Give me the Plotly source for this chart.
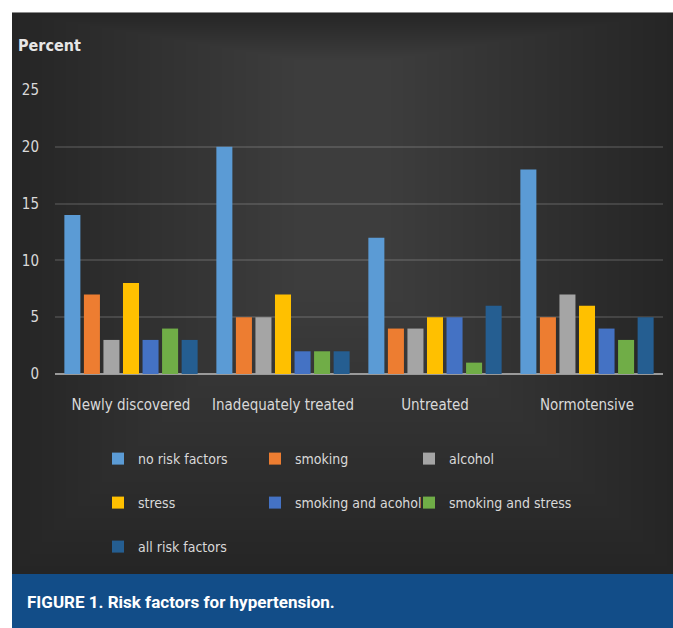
import plotly.graph_objects as go

categories = ["Newly discovered", "Inadequately treated", "Untreated", "Normotensive"]
series_names = ["no risk factors", "smoking", "alcohol", "stress",
                "smoking and acohol", "smoking and stress", "all risk factors"]
no_risk = [14, 20, 12, 18]
smoking = [7, 5, 4, 5]
alcohol = [3, 5, 4, 7]
stress = [8, 7, 5, 6]
smoking_alcohol = [3, 2, 5, 4]
smoking_stress = [4, 2, 1, 3]
all_risk = [3, 2, 6, 5]
values = [no_risk, smoking, alcohol, stress, smoking_alcohol, smoking_stress, all_risk]
colors = ["#5b9bd5", "#ed7d31", "#a5a5a5", "#ffc000", "#4472c4", "#70ad47", "#255e91"]
y_ticks = [0, 5, 10, 15, 20, 25]

W, H = 673, 628
ML, MR, MT, MB = 55, 10, 90, 254
PW = W - ML - MR
PH = H - MT - MB

def px2x(p):
    return (p - ML) / PW

def py2y(p):
    return (H - MB - p) / PH

# legend grid: 3 columns x 3 rows (marker centre pixels)
leg_cols = [126, 283, 437]
leg_rows = [459, 503, 547]

fig = go.Figure()
legend_defs = {}
font_main = "Liberation Sans Narrow, DejaVu Sans Condensed, Open Sans, sans-serif"
for i, (name, vals, col) in enumerate(zip(series_names, values, colors)):
    lid = "legend" if i == 0 else f"legend{i + 1}"
    fig.add_trace(go.Bar(x=categories, y=vals, name=name, marker_color=col,
                         marker_line_width=0, legend=lid))
    cx = leg_cols[i % 3]
    cy = leg_rows[i // 3]
    legend_defs[lid] = dict(x=px2x(cx - 28), y=py2y(cy), xanchor="left", yanchor="middle",
                            orientation="h", bgcolor="rgba(0,0,0,0)",
                            font=dict(family=font_main, size=14, color="#d9d9d9"),
                            itemclick=False, itemdoubleclick=False)

# dark panel with soft vignette and caption bar
shapes = [
    dict(type="rect", xref="paper", yref="paper", layer="below",
         x0=px2x(12), x1=px2x(680), y0=py2y(574), y1=py2y(12),
         fillcolor="#252525", line_width=0),
]
n = 24
for k in range(n):
    ix = 6 + k * 12
    iyt = k * 2
    iyb = 8 + k * 12
    shapes.append(dict(type="rect", xref="paper", yref="paper", layer="below",
                       x0=px2x(12 + ix), x1=px2x(673 - ix),
                       y0=py2y(574 - iyb), y1=py2y(14 + iyt),
                       fillcolor="white", opacity=0.0085, line_width=0))
shapes += [
    dict(type="line", xref="paper", yref="paper", layer="below",
         x0=px2x(12), x1=px2x(680), y0=py2y(12.5), y1=py2y(12.5),
         line=dict(color="#8c8c8c", width=1)),
    dict(type="rect", xref="paper", yref="paper", layer="below",
         x0=px2x(12), x1=px2x(680), y0=py2y(640), y1=py2y(574),
         fillcolor="#124d88", line_width=0),
]

fig.update_layout(
    width=W, height=H,
    margin=dict(l=ML, r=MR, t=MT, b=MB),
    paper_bgcolor="white",
    plot_bgcolor="rgba(0,0,0,0)",
    barmode="group",
    bargap=0.1,
    bargroupgap=0.18,
    shapes=shapes,
    showlegend=True,
    xaxis=dict(showgrid=False, showline=False, ticks="",
               tickfont=dict(family=font_main, size=15, color="#d9d9d9"),
               ticklabelstandoff=20, fixedrange=True),
    yaxis=dict(range=[0, 25], tickvals=y_ticks, showgrid=True,
               gridcolor="rgba(255,255,255,0.13)", gridwidth=1.5,
               zeroline=True, zerolinecolor="#9a9a9a", zerolinewidth=2,
               showline=False, ticks="",
               tickfont=dict(family=font_main, size=15, color="#d9d9d9"),
               ticklabelstandoff=15, fixedrange=True),
    annotations=[
        dict(text="<b>Percent</b>", xref="paper", yref="paper",
             x=px2x(16), y=py2y(45), xanchor="left", yanchor="middle",
             showarrow=False, font=dict(family=font_main, size=16, color="#e6e6e6")),
        dict(text="<b>FIGURE 1. Risk factors for hypertension.</b>", xref="paper", yref="paper",
             x=px2x(25), y=py2y(602), xanchor="left", yanchor="middle",
             showarrow=False, font=dict(family="Roboto, sans-serif", size=17, color="white")),
    ],
    **legend_defs,
)

fig.write_html("out.html")
